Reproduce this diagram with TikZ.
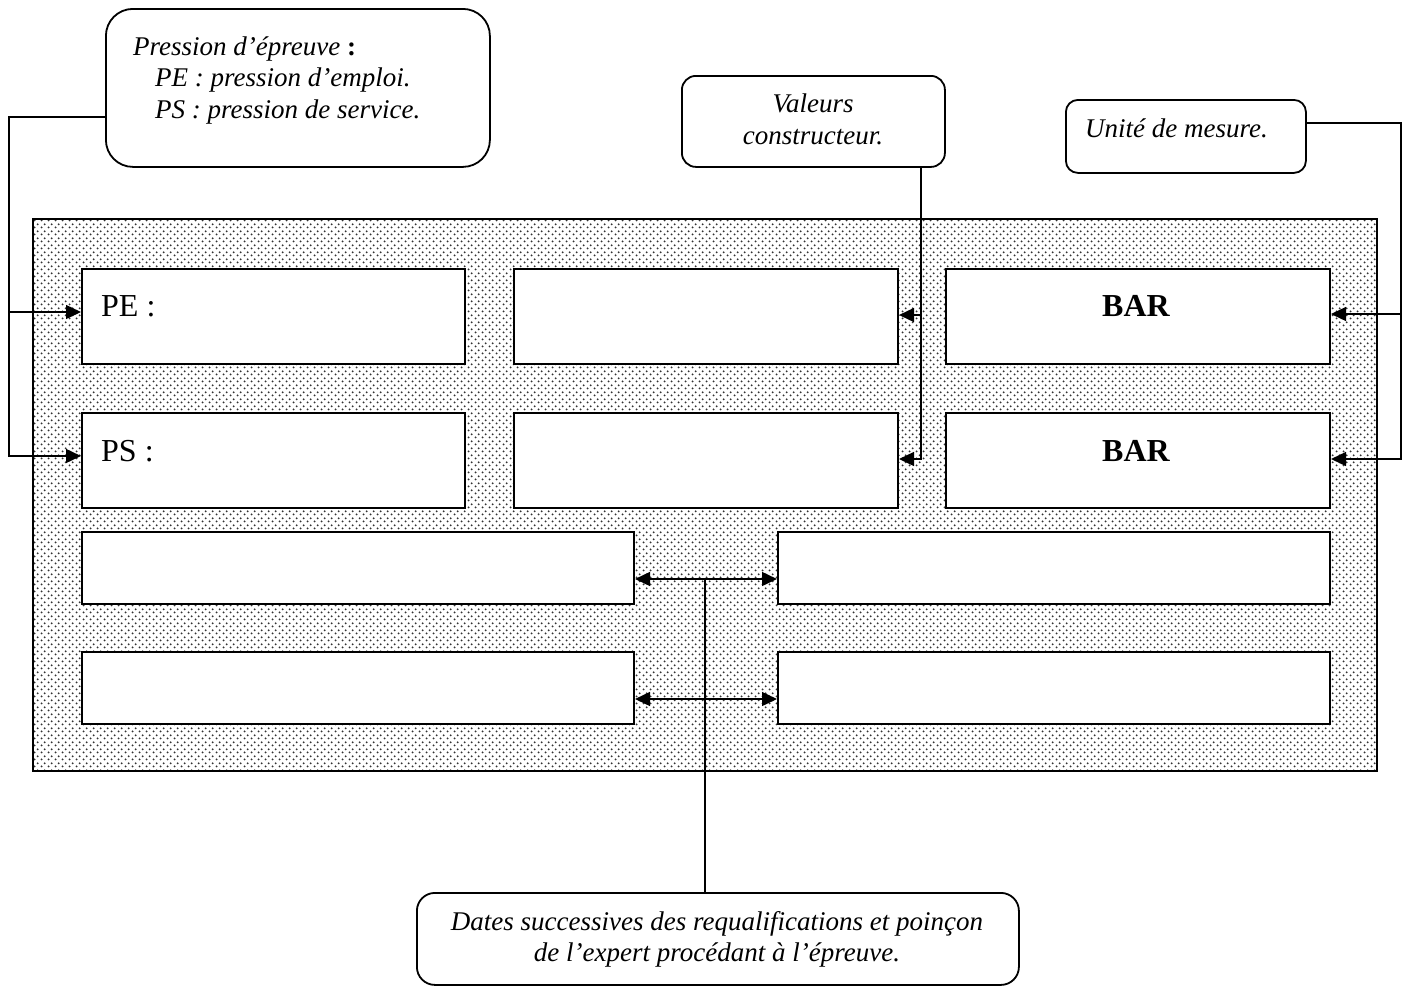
\documentclass[tikz,border=0pt]{standalone}
\usepackage{fontspec}
\setmainfont{Liberation Serif}
\usetikzlibrary{arrows.meta,patterns}
\pgfdeclarepatternformonly{mydots}{\pgfpointorigin}{\pgfpoint{6.6pt}{6.6pt}}{\pgfpoint{6.6pt}{6.6pt}}{%
  \pgfpathcircle{\pgfpoint{1.65pt}{1.65pt}}{1.1pt}%
  \pgfpathcircle{\pgfpoint{4.95pt}{4.95pt}}{1.1pt}%
  \pgfusepath{fill}}
\tikzset{
  box/.style={draw,line width=2pt,fill=white,anchor=north west,inner sep=0pt,outer sep=1pt},
  rbox/.style={draw,line width=1.8pt,fill=white,anchor=north west,inner sep=0pt,outer sep=0.9pt},
  conn/.style={line width=1.4pt},
  arr/.style={conn,-{Triangle[length=15pt,width=14pt]}},
  darr/.style={conn,{Triangle[length=15pt,width=14pt]}-{Triangle[length=15pt,width=14pt]}},
  itx/.style={font=\fontsize{27}{31}\selectfont\itshape,inner sep=0pt},
  btx/.style={font=\fontsize{32}{36}\selectfont,inner sep=0pt},
}
\begin{document}
\begin{tikzpicture}[x=1pt,y=-1pt]
\useasboundingbox (0,0) rectangle (1407,986);
% background panel
\node[draw,line width=2pt,anchor=north west,inner sep=0pt,outer sep=0pt,minimum width=1344pt,minimum height=552pt,pattern=mydots,pattern color=black!80] (panel) at (33,219) {};
% row boxes
\node[box,minimum width=383pt,minimum height=95pt] (pe1) at (81,268) {};
\node[box,minimum width=384pt,minimum height=95pt] (v1) at (513,268) {};
\node[box,minimum width=384pt,minimum height=95pt] (b1) at (945,268) {};
\node[box,minimum width=383pt,minimum height=95pt] (pe2) at (81,412) {};
\node[box,minimum width=384pt,minimum height=95pt] (v2) at (513,412) {};
\node[box,minimum width=384pt,minimum height=95pt] (b2) at (945,412) {};
\node[box,minimum width=552pt,minimum height=72pt] (d1) at (81,531) {};
\node[box,minimum width=552pt,minimum height=72pt] (d2) at (777,531) {};
\node[box,minimum width=552pt,minimum height=72pt] (d3) at (81,651) {};
\node[box,minimum width=552pt,minimum height=72pt] (d4) at (777,651) {};
% box texts
\node[btx,anchor=base west] (pet) at (101,316) {PE :};
\node[btx,anchor=base west] (pst) at (101,461) {PS :};
\node[btx,anchor=base,font=\fontsize{32}{36}\selectfont\bfseries] (bar1) at (1136,316) {BAR};
\node[btx,anchor=base,font=\fontsize{32}{36}\selectfont\bfseries] (bar2) at (1136,461) {BAR};
% callout boxes
\node[rbox,rounded corners=27pt,minimum width=384pt,minimum height=158pt] (pp) at (105,8) {};
\node[rbox,rounded corners=14pt,minimum width=263pt,minimum height=91pt] (vc) at (681,75) {};
\node[rbox,rounded corners=12pt,minimum width=240pt,minimum height=73pt] (um) at (1065,99) {};
\node[rbox,rounded corners=18pt,minimum width=602pt,minimum height=92pt] (dt) at (416,892) {};
% callout texts
\node[itx,anchor=base west] (ppt1) at (133,55) {Pression d’épreuve \textup{\bfseries:}};
\node[itx,anchor=base west] (ppt2) at (155,86) {PE : pression d’emploi.};
\node[itx,anchor=base west] (ppt3) at (155,118) {PS : pression de service.};
\node[itx,anchor=base] (vct1) at (813,112) {Valeurs};
\node[itx,anchor=base] (vct2) at (813,144) {constructeur.};
\node[itx,anchor=base west] (umt) at (1085,137) {Unité de mesure.};
\node[itx,anchor=base] (dtt1) at (717,930) {Dates successives des requalifications et poinçon};
\node[itx,anchor=base] (dtt2) at (717,961) {de l’expert procédant à l’épreuve.};
% connectors left
\coordinate (lc) at (9,117);
\draw[arr] (pp.west |- 0,117) -- (lc) -- (9,456) -- (pe2.west |- 0,456);
\draw[arr] (9,312) -- (pe1.west |- 0,312);
% connectors middle
\coordinate (mc) at (921,459);
\draw[arr] (921,0 |- vc.south) -- (mc) -- (v2.east |- mc);
\draw[arr] (921,315) -- (v1.east |- 0,315);
% connectors right
\coordinate (rc) at (1401,123);
\draw[arr] (um.east |- 0,123) -- (rc) -- (1401,459) -- (b2.east |- 0,459);
\draw[arr] (1401,314) -- (b1.east |- 0,314);
% bottom connectors
\draw[darr] (d1.east |- 0,579) -- (d2.west |- 0,579);
\draw[darr] (d3.east |- 0,699) -- (d4.west |- 0,699);
\draw[conn] (705,579) -- (705,0 |- dt.north);
\end{tikzpicture}
\end{document}
